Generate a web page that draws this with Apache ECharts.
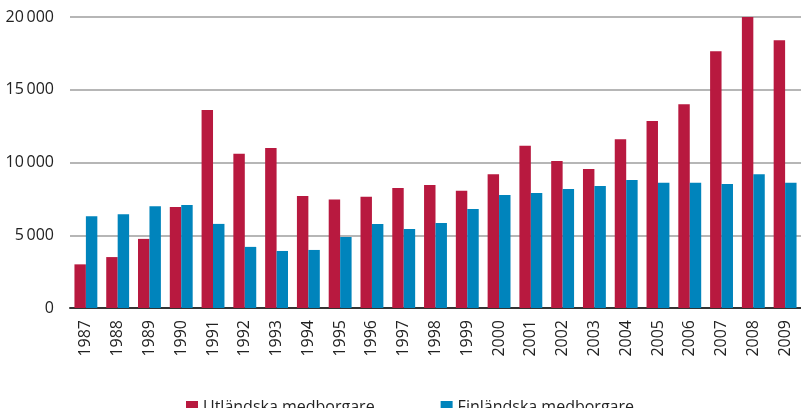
<!DOCTYPE html>
<html>
<head>
<meta charset="utf-8">
<script src="https://cdn.jsdelivr.net/npm/echarts@6/dist/echarts.min.js"></script>
<style>
  html, body { margin: 0; padding: 0; background: #fff; }
  #chart { width: 801px; height: 408px; }
</style>
</head>
<body>
<div id="chart"></div>
<script>
// years on the x axis
var years = ['1987', '1988', '1989', '1990', '1991', '1992', '1993', '1994', '1995', '1996', '1997', '1998',
  '1999', '2000', '2001', '2002', '2003', '2004', '2005', '2006', '2007', '2008', '2009'];

var utlandska = [3000, 3500, 4750, 6950, 13600, 10600, 11000, 7700, 7450, 7650, 8250, 8450,
  8050, 9200, 11150, 10100, 9550, 11600, 12850, 14000, 17650, 20000, 18400];
var finlandska = [6300, 6450, 7000, 7080, 5780, 4200, 3920, 3990, 4880, 5780, 5430, 5850,
  6800, 7770, 7900, 8180, 8390, 8800, 8600, 8600, 8520, 9200, 8600];

var seriesNames = ['Utländska medborgare', 'Finländska medborgare'];

var chart = echarts.init(document.getElementById('chart'));

function fmt(v) {
  // 20 000 style, thin space as thousands separator
  if (v < 1000) return String(v);
  var s = String(v);
  return s.slice(0, s.length - 3) + '\u2009' + s.slice(s.length - 3);
}

chart.setOption({
  animation: false,
  textStyle: { fontFamily: 'Open Sans' },
  color: ['#b8193f', '#0084bc'],
  legend: {
    data: seriesNames,
    left: 181,
    top: 394,
    itemWidth: 12,
    itemHeight: 12,
    itemGap: 66,
    icon: 'rect',
    textStyle: { fontSize: 16, color: '#222', fontFamily: 'Open Sans' }
  },
  grid: {
    left: 70,
    top: 17,
    width: 737,
    bottom: 100,
    containLabel: false
  },
  xAxis: {
    type: 'category',
    data: years,
    axisLine: { lineStyle: { color: '#333', width: 2 } },
    axisTick: { show: false },
    axisLabel: {
      rotate: 90,
      margin: 12,
      fontSize: 16,
      color: '#222'
    }
  },
  yAxis: {
    type: 'value',
    min: 0,
    max: 20000,
    interval: 5000,
    axisLine: { show: false },
    axisTick: { show: false },
    splitLine: { lineStyle: { color: '#9e9e9e', width: 1.5 } },
    axisLabel: {
      margin: 16,
      fontSize: 16,
      color: '#222',
      formatter: fmt
    }
  },
  series: [
    {
      name: seriesNames[0],
      type: 'bar',
      data: utlandska,
      barGap: '0%',
      barCategoryGap: '28%'
    },
    {
      name: seriesNames[1],
      type: 'bar',
      data: finlandska,
      barGap: '0%',
      barCategoryGap: '28%'
    }
  ]
});
</script>
</body>
</html>
